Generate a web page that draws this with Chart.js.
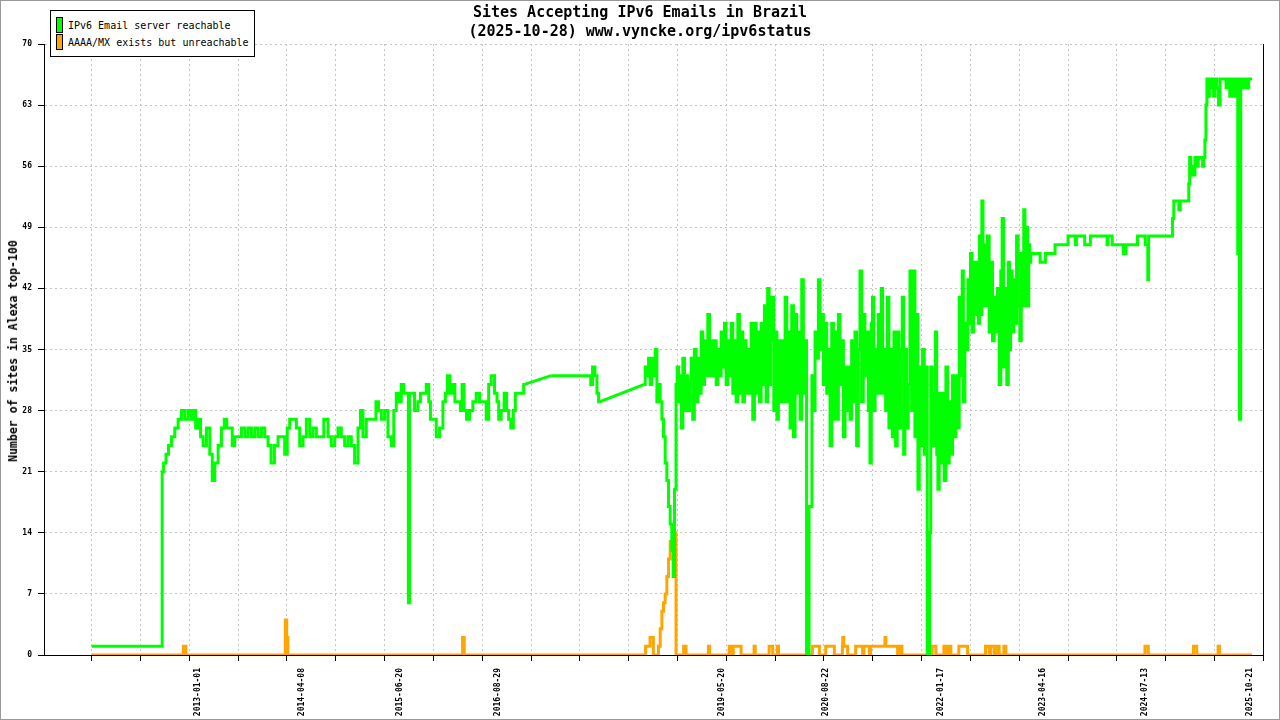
<!DOCTYPE html>
<html>
<head>
<meta charset="utf-8">
<script src="https://cdn.jsdelivr.net/npm/chart.js@4.4.1/dist/chart.umd.min.js"></script>
<style>
html,body{margin:0;padding:0;background:#fff;}
#wrap{position:relative;width:1280px;height:720px;overflow:hidden;background:#fff;}
#c{position:absolute;left:0;top:0;}
#frame{position:absolute;left:0;top:0;width:1280px;height:720px;box-sizing:border-box;border:1px solid #999;pointer-events:none;}
#title{position:absolute;left:0;top:3px;width:1280px;text-align:center;font:bold 15px/19px "DejaVu Sans Mono",monospace;color:#000;white-space:pre;}
#ytitle{position:absolute;left:12.5px;top:351px;transform:translate(-50%,-50%) rotate(-90deg);white-space:nowrap;font:bold 11.5px "DejaVu Sans Mono",monospace;color:#000;}
#legend{position:absolute;left:50px;top:10px;width:203px;height:45px;border:1px solid #000;background:#fff;font:10px/12px "DejaVu Sans Mono",monospace;color:#000;}
.sw{position:absolute;left:5px;width:5px;height:14px;border:1px solid #000;}
.lt{position:absolute;left:17px;white-space:nowrap;}
</style>
</head>
<body>
<div id="wrap">
  <canvas id="c" width="1280" height="720"></canvas>
  <div id="title">Sites Accepting IPv6 Emails in Brazil
(2025-10-28) www.vyncke.org/ipv6status</div>
  <div id="ytitle">Number of sites in Alexa top-100</div>
  <div id="legend">
    <div class="sw" style="top:6px;background:#00ff00;"></div>
    <div class="lt" style="top:9px;">IPv6 Email server reachable</div>
    <div class="sw" style="top:23px;background:#ffa500;"></div>
    <div class="lt" style="top:26px;">AAAA/MX exists but unreachable</div>
  </div>
  <div id="frame"></div>
</div>
<script>
// ---------- DATA (x = decimal year, y = number of sites) ----------
const greenYears = [
  // 2011-2015
  2011.707, 2012.562, 2012.570, 2012.598, 2012.627, 2012.659, 2012.700, 2012.740, 2012.781, 2012.821,
  2012.862, 2012.902, 2012.943, 2012.963, 2012.984, 2013.024, 2013.044, 2013.085, 2013.125, 2013.166,
  2013.186, 2013.227, 2013.267, 2013.308, 2013.336, 2013.368, 2013.409, 2013.429, 2013.470, 2013.510,
  2013.551, 2013.592, 2013.632, 2013.673, 2013.713, 2013.754, 2013.794, 2013.835, 2013.875, 2013.908,
  2013.956, 2013.997, 2014.037, 2014.078, 2014.098, 2014.139, 2014.179, 2014.220, 2014.260, 2014.301,
  2014.341, 2014.382, 2014.422, 2014.463, 2014.503, 2014.564, 2014.605, 2014.645, 2014.686, 2014.726,
  2014.767, 2014.807, 2014.848, 2014.888, 2014.929, 2014.970, 2014.990, 2015.030, 2015.071, 2015.111,
  2015.152, 2015.184, 2015.213, 2015.253, 2015.294, 2015.334, 2015.375, 2015.395, 2015.436, 2015.456,
  2015.496, 2015.517, 2015.557, 2015.569, 2015.585, 2015.618, 2015.658, 2015.699,
  // 2015-2018
  2015.719, 2015.760, 2015.801, 2015.821, 2015.841, 2015.882, 2015.922, 2015.963, 2016.003, 2016.023,
  2016.052, 2016.084, 2016.113, 2016.145, 2016.186, 2016.206, 2016.226, 2016.254, 2016.287, 2016.327,
  2016.368, 2016.408, 2016.449, 2016.490, 2016.530, 2016.550, 2016.591, 2016.631, 2016.652, 2016.672,
  2016.712, 2016.745, 2016.773, 2016.793, 2016.826, 2016.854, 2016.875, 2016.956, 2016.976, 2017.300,
  2017.774, 2017.790, 2017.819, 2017.847, 2017.868, 2017.888, 2018.435, 2018.455, 2018.476, 2018.496,
  2018.516, 2018.536, 2018.557, 2018.577, 2018.597, 2018.617, 2018.638, 2018.658, 2018.678, 2018.698,
  2018.719, 2018.739, 2018.759, 2018.779, 2018.792, 2018.812, 2018.828,
  // 2018-2020
  2018.840, 2018.861, 2018.881, 2018.893, 2018.913, 2018.934, 2018.954, 2018.974, 2018.994, 2019.015,
  2019.031, 2019.055, 2019.075, 2019.096, 2019.116, 2019.136, 2019.156, 2019.177, 2019.197, 2019.217,
  2019.238, 2019.258, 2019.278, 2019.298, 2019.319, 2019.339, 2019.359, 2019.379, 2019.400, 2019.420,
  2019.440, 2019.460, 2019.481, 2019.501, 2019.521, 2019.541, 2019.562, 2019.582, 2019.602, 2019.623,
  2019.643, 2019.663, 2019.683, 2019.704, 2019.724, 2019.744, 2019.764, 2019.785, 2019.805, 2019.825,
  2019.845, 2019.866, 2019.886, 2019.906, 2019.927, 2019.943, 2019.963, 2019.979, 2020.000, 2020.020,
  2020.040, 2020.056, 2020.076, 2020.097, 2020.117, 2020.137, 2020.158, 2020.178, 2020.198, 2020.218,
  2020.239, 2020.259, 2020.279, 2020.299, 2020.320, 2020.340, 2020.360, 2020.380, 2020.401, 2020.417,
  2020.433, 2020.445, 2020.466, 2020.482, 2020.502, 2020.522, 2020.543, 2020.563, 2020.583, 2020.603,
  2020.624, 2020.644, 2020.664, 2020.684, 2020.705, 2020.725, 2020.745, 2020.766, 2020.786, 2020.806,
  2020.826, 2020.847, 2020.867, 2020.887, 2020.907, 2020.928,
  // 2020-2022
  2020.947, 2020.968, 2020.988, 2021.008, 2021.028, 2021.049, 2021.069, 2021.089, 2021.109, 2021.130,
  2021.150, 2021.170, 2021.190, 2021.203, 2021.219, 2021.235, 2021.251, 2021.271, 2021.292, 2021.312,
  2021.324, 2021.344, 2021.361, 2021.381, 2021.401, 2021.421, 2021.442, 2021.462, 2021.482, 2021.502,
  2021.523, 2021.543, 2021.563, 2021.584, 2021.596, 2021.616, 2021.636, 2021.657, 2021.677, 2021.697,
  2021.717, 2021.738, 2021.758, 2021.770, 2021.790, 2021.811, 2021.831, 2021.851, 2021.871, 2021.884,
  2021.900, 2021.912, 2021.928, 2021.948, 2021.969, 2021.985, 2022.001, 2022.013, 2022.033, 2022.054,
  2022.074, 2022.094, 2022.115, 2022.135, 2022.155, 2022.175, 2022.196, 2022.216, 2022.236, 2022.256,
  2022.277, 2022.297, 2022.309, 2022.325, 2022.346, 2022.366, 2022.378, 2022.394, 2022.414, 2022.431,
  2022.451, 2022.471, 2022.491, 2022.508, 2022.520, 2022.536, 2022.548, 2022.564, 2022.581, 2022.601,
  2022.621, 2022.641, 2022.662, 2022.682, 2022.702, 2022.723, 2022.743, 2022.763, 2022.783, 2022.795,
  2022.816, 2022.836, 2022.856, 2022.872,
  // 2022-2025
  2022.884, 2022.900, 2022.921, 2022.941, 2022.957, 2022.973, 2022.994, 2023.014, 2023.030, 2023.046,
  2023.058, 2023.075, 2023.091, 2023.107, 2023.119, 2023.131, 2023.144, 2023.245, 2023.257, 2023.310,
  2023.322, 2023.427, 2023.439, 2023.585, 2023.597, 2023.674, 2023.687, 2023.699, 2023.788, 2023.800,
  2023.857, 2023.869, 2024.060, 2024.072, 2024.084, 2024.120, 2024.137, 2024.258, 2024.270, 2024.291,
  2024.303, 2024.428, 2024.445, 2024.526, 2024.538, 2024.558, 2024.566, 2024.578, 2024.854, 2024.870,
  2024.886, 2024.931, 2024.947, 2024.967, 2025.056, 2025.065, 2025.077, 2025.093, 2025.109, 2025.125,
  2025.146, 2025.166, 2025.186, 2025.223, 2025.235, 2025.251, 2025.263, 2025.275, 2025.288, 2025.304,
  2025.320, 2025.336, 2025.352, 2025.373, 2025.389, 2025.413, 2025.433, 2025.450, 2025.506, 2025.523,
  2025.539, 2025.580, 2025.596, 2025.628, 2025.644, 2025.669, 2025.685, 2025.701, 2025.729, 2025.750,
  2025.782, 2025.798, 2025.831
];
const greenSites = [
  // 2011-2015
  1, 1, 21, 22, 23, 24, 25, 26, 27, 28,
  27, 28, 27, 28, 26, 27, 25, 24, 26, 23,
  20, 22, 24, 26, 27, 26, 26, 24, 25, 25,
  26, 25, 26, 25, 26, 25, 26, 25, 24, 22,
  24, 25, 25, 23, 26, 27, 27, 26, 24, 25,
  27, 25, 26, 25, 25, 27, 25, 24, 25, 26,
  25, 24, 25, 24, 22, 26, 28, 25, 27, 27,
  27, 29, 28, 27, 28, 25, 24, 28, 30, 29,
  31, 30, 30, 6, 30, 30, 28, 29,
  // 2015-2018
  30, 30, 31, 29, 27, 27, 25, 26, 29, 30,
  32, 30, 31, 29, 29, 28, 31, 28, 27, 28,
  29, 30, 29, 29, 27, 31, 32, 30, 29, 27,
  28, 30, 28, 27, 26, 28, 30, 30, 31, 32,
  32, 31, 33, 32, 30, 29, 31, 33, 32, 34,
  31, 34, 32, 35, 29, 31, 29, 27, 25, 22,
  20, 17, 15, 12, 9, 19, 31,
  // 2018-2020
  33, 29, 32, 26, 34, 28, 32, 28, 31, 34,
  27, 35, 29, 34, 30, 37, 31, 36, 32, 39,
  32, 36, 32, 36, 31, 35, 32, 37, 33, 38,
  31, 36, 32, 38, 30, 36, 29, 39, 30, 37,
  29, 36, 30, 35, 30, 38, 27, 38, 30, 37,
  29, 38, 31, 40, 29, 42, 31, 36, 41, 28,
  37, 27, 36, 29, 36, 29, 41, 29, 37, 26,
  40, 25, 39, 30, 37, 27, 43, 30, 36, 0,
  0, 17, 17, 32, 28, 37, 34, 43, 35, 39,
  31, 38, 30, 35, 24, 38, 27, 37, 27, 39,
  31, 36, 25, 33, 28, 33,
  // 2020-2022
  27, 36, 29, 37, 24, 35, 44, 29, 39, 32,
  37, 28, 22, 38, 41, 28, 35, 30, 39, 30,
  42, 30, 35, 28, 41, 26, 35, 25, 37, 24,
  37, 26, 35, 41, 23, 35, 26, 31, 44, 28,
  44, 25, 39, 19, 33, 24, 35, 23, 33, 0,
  0, 14, 33, 24, 30, 37, 23, 19, 30, 22,
  30, 20, 33, 22, 29, 23, 32, 25, 32, 26,
  41, 32, 44, 29, 38, 35, 43, 38, 46, 37,
  45, 39, 45, 38, 48, 39, 52, 40, 47, 40,
  48, 37, 45, 36, 41, 37, 42, 31, 44, 50,
  33, 42, 31, 45,
  // 2022-2025
  35, 44, 37, 43, 38, 48, 40, 36, 46, 40,
  51, 40, 49, 40, 47, 45, 46, 46, 45, 45,
  46, 46, 47, 47, 48, 48, 47, 48, 48, 47,
  47, 48, 48, 47, 48, 48, 47, 47, 46, 46,
  47, 47, 48, 48, 47, 47, 43, 48, 48, 50,
  52, 52, 51, 52, 52, 54, 57, 55, 56, 55,
  57, 56, 57, 57, 56, 57, 59, 63, 66, 64,
  66, 65, 66, 64, 66, 65, 63, 66, 66, 65,
  66, 64, 66, 64, 66, 46, 27, 66, 65, 66,
  65, 66, 66
];
// periods without measurements: drawn as straight lines between the two samples
const greenStraightSpans = [[2016.976, 2017.300], [2017.888, 2018.435]];

const orangeYears = [
  2011.707, 2012.820, 2012.828, 2012.850, 2012.858, 2014.062, 2014.068, 2014.080, 2014.084, 2014.094,
  2014.098, 2016.220, 2016.225, 2016.240, 2016.245, 2018.447, 2018.452, 2018.500, 2018.508, 2018.540,
  2018.548, 2018.597, 2018.617, 2018.638, 2018.658, 2018.678, 2018.698, 2018.719, 2018.739, 2018.759,
  2018.800, 2018.816, 2018.824, 2018.910, 2018.915, 2018.940, 2018.945, 2019.212, 2019.216, 2019.226,
  2019.230, 2019.465, 2019.469, 2019.500, 2019.504, 2019.515, 2019.519, 2019.610, 2019.614, 2019.768,
  2019.772, 2019.782, 2019.786, 2019.951, 2019.955, 2019.995, 2019.999, 2020.052, 2020.056, 2020.066,
  2020.070, 2020.478, 2020.482, 2020.563, 2020.567, 2020.640, 2020.644, 2020.745, 2020.749, 2020.843,
  2020.847, 2020.851, 2020.860, 2020.864, 2020.907, 2020.911, 2021.004, 2021.008, 2021.089, 2021.093,
  2021.105, 2021.109, 2021.170, 2021.174, 2021.186, 2021.190, 2021.361, 2021.365, 2021.372, 2021.376,
  2021.515, 2021.519, 2021.531, 2021.535, 2021.567, 2021.571, 2021.936, 2021.940, 2021.981, 2021.985,
  2022.078, 2022.082, 2022.102, 2022.106, 2022.131, 2022.135, 2022.163, 2022.167, 2022.260, 2022.264,
  2022.366, 2022.370, 2022.585, 2022.589, 2022.629, 2022.633, 2022.646, 2022.650, 2022.690, 2022.694,
  2022.727, 2022.731, 2022.751, 2022.755, 2022.808, 2022.812, 2022.832, 2022.836, 2024.525, 2024.530,
  2024.565, 2024.570, 2025.115, 2025.120, 2025.155, 2025.160, 2025.415, 2025.420, 2025.432, 2025.436,
  2025.830
];
const orangeSites = [
  0, 0, 1, 1, 0, 0, 4, 4, 2, 2,
  0, 0, 2, 2, 0, 0, 1, 1, 2, 2,
  0, 0, 1, 3, 5, 6, 7, 9, 11, 13,
  14, 14, 0, 0, 1, 1, 0, 0, 1, 1,
  0, 0, 1, 1, 0, 0, 1, 1, 0, 0,
  1, 1, 0, 0, 1, 1, 0, 0, 1, 1,
  0, 0, 1, 1, 0, 0, 1, 1, 0, 0,
  1, 2, 2, 1, 1, 0, 0, 1, 1, 0,
  0, 1, 1, 0, 0, 1, 1, 2, 2, 1,
  1, 0, 0, 1, 1, 0, 0, 1, 1, 0,
  0, 1, 1, 0, 0, 1, 1, 0, 0, 1,
  1, 0, 0, 1, 1, 0, 0, 1, 1, 0,
  0, 1, 1, 0, 0, 1, 1, 0, 0, 1,
  1, 0, 0, 1, 1, 0, 0, 1, 1, 0,
  0
];
const xLabelDates = ['2013-01-01','2014-04-08','2015-06-20','2016-08-29','2019-05-20',
                     '2020-08-22','2022-01-17','2023-04-16','2024-07-13','2025-10-21'];
const yTickStep = 7, yMax = 70;
const seriesNames = ['IPv6 Email server reachable', 'AAAA/MX exists but unreachable'];

// ---------- axis layout ----------
const xMin = 2011.128, xMax = 2025.969;
const xTickStart = 2011.708, xTickStep = 0.5942, xTickCount = 25;

function dateToYear(s){
  const [y,m,d] = s.split('-').map(Number);
  const a = Date.UTC(y,0,1), b = Date.UTC(y+1,0,1);
  return y + (Date.UTC(y,m-1,d) - a) / (b - a);
}
function pts(xs, ys){
  if (xs.length !== ys.length) console.error('length mismatch', xs.length, ys.length);
  const n = Math.min(xs.length, ys.length), out = [];
  for (let i = 0; i < n; i++) out.push({x: xs[i], y: ys[i]});
  return out;
}
const near = (a, b) => Math.abs(a - b) < 1e-6;
// main (stepped) green line, broken at the straight spans
const greenAll = pts(greenYears, greenSites);
const greenMain = [], greenStraight = [];
for (let i = 0; i < greenAll.length; i++) {
  greenMain.push(greenAll[i]);
  const nx = greenAll[i + 1];
  if (nx && greenStraightSpans.some(s => near(s[0], greenAll[i].x) && near(s[1], nx.x))) {
    greenMain.push({x: (greenAll[i].x + nx.x) / 2, y: null});
    greenStraight.push(greenAll[i], nx, {x: nx.x + 1e-4, y: null});
  }
}

const tickObjs = [];
for (let i = 0; i < xTickCount; i++) tickObjs.push({value: xTickStart + i * xTickStep, label: ''});
xLabelDates.forEach(s => tickObjs.push({value: dateToYear(s), label: s}));
tickObjs.sort((a,b) => a.value - b.value);

const isLabelTick = c => !!(c.tick && c.tick.label);
const monoBold8 = {family: '"DejaVu Sans Mono", monospace', size: 8, weight: 'bold'};

const rightLine = {
  id: 'rightLine',
  afterDraw(chart){
    const {ctx, chartArea: a} = chart;
    ctx.save();
    ctx.strokeStyle = '#000'; ctx.lineWidth = 1;
    const x = Math.round(a.right) + 0.5;
    ctx.beginPath(); ctx.moveTo(x, a.top); ctx.lineTo(x, a.bottom); ctx.stroke();
    ctx.restore();
  }
};

new Chart(document.getElementById('c'), {
  type: 'line',
  data: {
    datasets: [
      {label: seriesNames[0], data: greenMain, borderColor: '#00ff00', backgroundColor: '#00ff00', stepped: 'middle'},
      {label: seriesNames[0] + ' (no samples)', data: greenStraight, borderColor: '#00ff00', backgroundColor: '#00ff00'},
      {label: seriesNames[1], data: pts(orangeYears, orangeSites), borderColor: '#ffa500', backgroundColor: '#ffa500', stepped: 'middle'}
    ]
  },
  options: {
    responsive: false,
    animation: false,
    devicePixelRatio: 1,
    spanGaps: false,
    layout: {padding: {top: 44, right: 15, left: 0, bottom: 0}},
    plugins: {legend: {display: false}, tooltip: {enabled: false}, title: {display: false}},
    elements: {
      point: {radius: 0, hoverRadius: 0},
      line: {tension: 0, borderWidth: 3, borderJoinStyle: 'miter', borderCapStyle: 'butt', fill: false}
    },
    scales: {
      x: {
        type: 'linear', min: xMin, max: xMax,
        afterFit(s){ s.height = 65; },
        afterBuildTicks(s){ s.ticks = tickObjs.map(t => ({value: t.value})); },
        ticks: {
          autoSkip: false, maxRotation: 90, minRotation: 90, padding: 7,
          font: monoBold8, color: '#000',
          callback: (v, i) => tickObjs[i] ? tickObjs[i].label : ''
        },
        grid: {
          color: c => isLabelTick(c) ? 'rgba(0,0,0,0)' : '#c4c4c4',
          tickColor: c => isLabelTick(c) ? 'rgba(0,0,0,0)' : '#000',
          tickLength: 6, lineWidth: 1
        },
        border: {color: '#000', width: 1, dash: [2, 3]}
      },
      y: {
        min: 0, max: yMax,
        afterFit(s){ s.width = 44; },
        ticks: {stepSize: yTickStep, padding: 6, font: monoBold8, color: '#000'},
        grid: {color: '#c4c4c4', tickColor: '#000', tickLength: 6, lineWidth: 1},
        border: {color: '#000', width: 1, dash: [2, 3]}
      }
    }
  },
  plugins: [rightLine]
});
</script>
</body>
</html>
